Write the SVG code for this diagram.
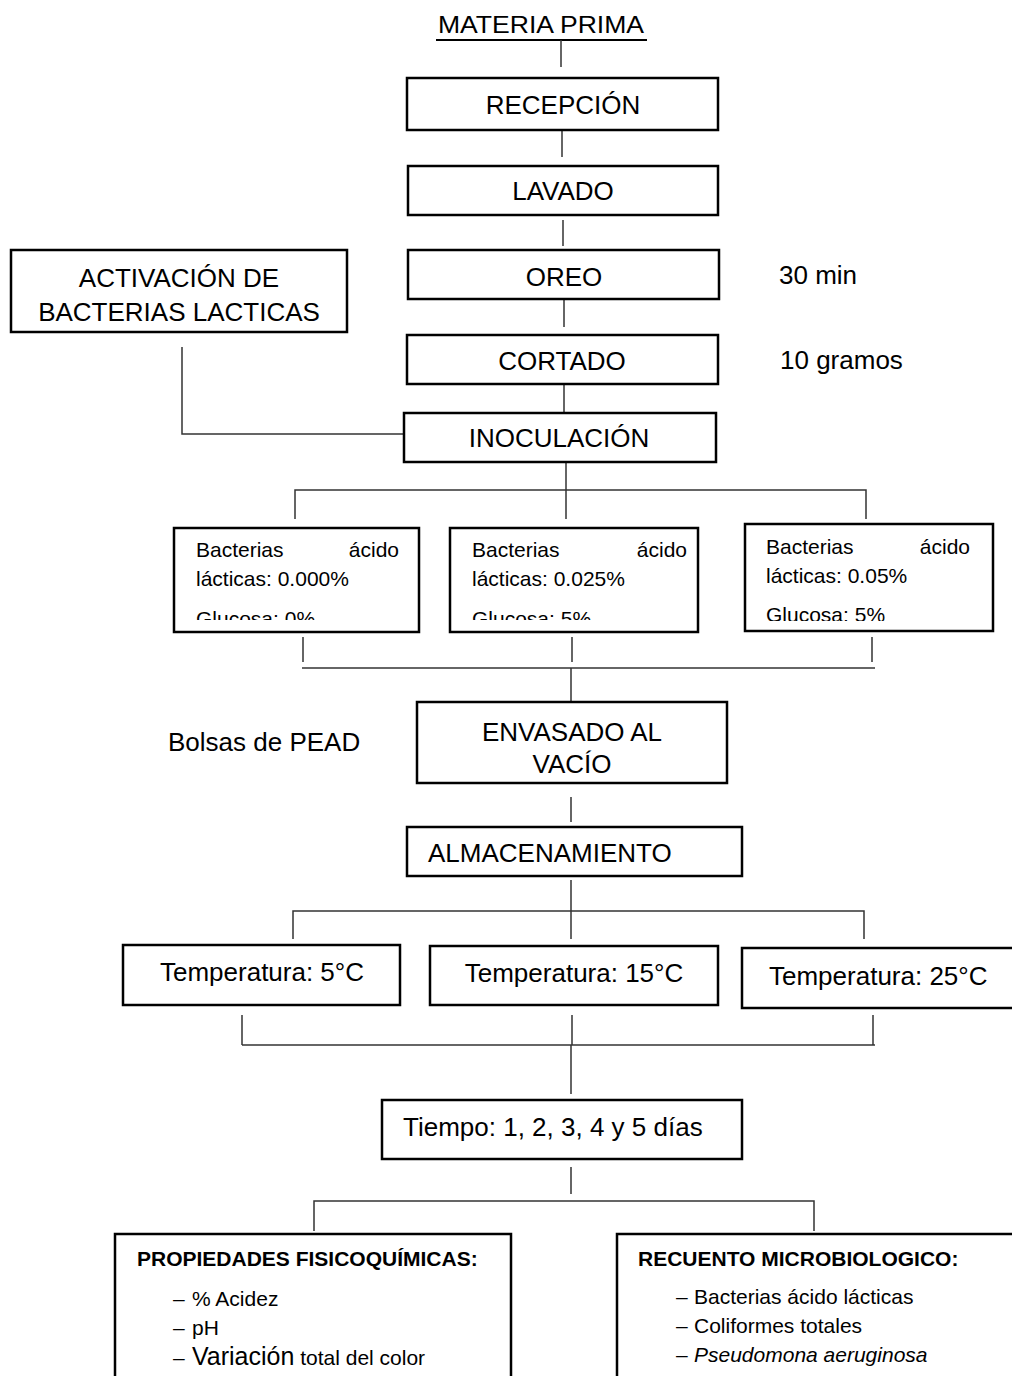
<svg xmlns="http://www.w3.org/2000/svg" width="1012" height="1376" viewBox="0 0 1012 1376">
<style>
  .bx { fill: #fff; stroke: #000; stroke-width: 2.5; }
  .ln { stroke: #333; stroke-width: 1.5; fill: none; }
  .t { font-family: "Liberation Sans", Arial, sans-serif; font-size: 26px; fill: #000; }
  .c { text-anchor: middle; }
  .s { font-family: "Liberation Sans", Arial, sans-serif; font-size: 21px; fill: #000; }
  .b { font-family: "Liberation Sans", Arial, sans-serif; font-size: 21px; font-weight: bold; fill: #000; }
</style>
<defs>
  <clipPath id="cl1"><rect x="174" y="528" width="245" height="92"/></clipPath>
  <clipPath id="cl2"><rect x="450" y="528" width="248" height="92"/></clipPath>
  <clipPath id="cl3"><rect x="745" y="524" width="248" height="97"/></clipPath>
</defs>

<g id="connectors">
  <line class="ln" x1="436" y1="40" x2="647" y2="40" style="stroke:#000;stroke-width:2"/>
  <line class="ln" x1="561" y1="40" x2="561" y2="67"/>
  <line class="ln" x1="562" y1="130" x2="562" y2="157"/>
  <line class="ln" x1="563" y1="220" x2="563" y2="246"/>
  <line class="ln" x1="564" y1="299" x2="564" y2="327"/>
  <line class="ln" x1="564" y1="384" x2="564" y2="413"/>
  <polyline class="ln" points="182,347 182,434 404,434"/>
  <line class="ln" x1="566" y1="462" x2="566" y2="519"/>
  <polyline class="ln" points="295,519 295,490 866,490 866,519"/>
  <line class="ln" x1="303" y1="637" x2="303" y2="662"/>
  <line class="ln" x1="572" y1="637" x2="572" y2="662"/>
  <line class="ln" x1="872" y1="637" x2="872" y2="662"/>
  <line class="ln" x1="302" y1="668" x2="875" y2="668"/>
  <line class="ln" x1="571" y1="668" x2="571" y2="702"/>
  <line class="ln" x1="571" y1="797" x2="571" y2="822"/>
  <line class="ln" x1="571" y1="880" x2="571" y2="939"/>
  <polyline class="ln" points="293,939 293,911 864,911 864,939"/>
  <line class="ln" x1="242" y1="1015" x2="242" y2="1045"/>
  <line class="ln" x1="572" y1="1015" x2="572" y2="1045"/>
  <line class="ln" x1="873" y1="1015" x2="873" y2="1045"/>
  <line class="ln" x1="242" y1="1045" x2="875" y2="1045"/>
  <line class="ln" x1="571" y1="1045" x2="571" y2="1094"/>
  <line class="ln" x1="571" y1="1167" x2="571" y2="1194"/>
  <polyline class="ln" points="314,1231 314,1201 814,1201 814,1231"/>
</g>

<g id="materia-prima">
  <text class="t c" x="541" y="33" style="font-size:24px" textLength="206" lengthAdjust="spacingAndGlyphs">MATERIA PRIMA</text>
</g>
<g id="recepcion">
  <rect class="bx" x="407" y="78" width="311" height="52"/>
  <text class="t c" x="563" y="114">RECEPCIÓN</text>
</g>
<g id="lavado">
  <rect class="bx" x="408" y="166" width="310" height="49"/>
  <text class="t c" x="563" y="200">LAVADO</text>
</g>
<g id="activacion">
  <rect class="bx" x="11" y="250" width="336" height="82"/>
  <text class="t c" x="179" y="287">ACTIVACIÓN DE</text>
  <text class="t c" x="179" y="321">BACTERIAS LACTICAS</text>
</g>
<g id="oreo">
  <rect class="bx" x="408" y="250" width="311" height="49"/>
  <text class="t c" x="564" y="286">OREO</text>
</g>
<g id="t30min">
  <text class="t" x="779" y="284">30 min</text>
</g>
<g id="cortado">
  <rect class="bx" x="407" y="335" width="311" height="49"/>
  <text class="t c" x="562" y="370">CORTADO</text>
</g>
<g id="t10gramos">
  <text class="t" x="780" y="369">10 gramos</text>
</g>
<g id="inoculacion">
  <rect class="bx" x="404" y="413" width="312" height="49"/>
  <text class="t c" x="559" y="447">INOCULACIÓN</text>
</g>

<g id="trat1">
  <rect class="bx" x="174" y="528" width="245" height="104"/>
  <g clip-path="url(#cl1)">
    <text class="s" x="196" y="557">Bacterias</text>
    <text class="s" x="399" y="557" text-anchor="end">ácido</text>
    <text class="s" x="196" y="586">lácticas: 0.000%</text>
    <text class="s" x="196" y="626">Glucosa: 0%</text>
  </g>
</g>
<g id="trat2">
  <rect class="bx" x="450" y="528" width="248" height="104"/>
  <g clip-path="url(#cl2)">
    <text class="s" x="472" y="557">Bacterias</text>
    <text class="s" x="687" y="557" text-anchor="end">ácido</text>
    <text class="s" x="472" y="586">lácticas: 0.025%</text>
    <text class="s" x="472" y="626">Glucosa: 5%</text>
  </g>
</g>
<g id="trat3">
  <rect class="bx" x="745" y="524" width="248" height="107"/>
  <g clip-path="url(#cl3)">
    <text class="s" x="766" y="554">Bacterias</text>
    <text class="s" x="970" y="554" text-anchor="end">ácido</text>
    <text class="s" x="766" y="583">lácticas: 0.05%</text>
    <text class="s" x="766" y="622">Glucosa: 5%</text>
  </g>
</g>

<g id="bolsas">
  <text class="t" x="168" y="751">Bolsas de PEAD</text>
</g>
<g id="envasado">
  <rect class="bx" x="417" y="702" width="310" height="81"/>
  <text class="t c" x="572" y="741">ENVASADO AL</text>
  <text class="t c" x="572" y="773">VACÍO</text>
</g>
<g id="almacenamiento">
  <rect class="bx" x="407" y="827" width="335" height="49"/>
  <text class="t" x="428" y="862">ALMACENAMIENTO</text>
</g>

<g id="temp5">
  <rect class="bx" x="123" y="945" width="277" height="60"/>
  <text class="t c" x="262" y="981">Temperatura: 5°C</text>
</g>
<g id="temp15">
  <rect class="bx" x="430" y="946" width="288" height="59"/>
  <text class="t c" x="574" y="982">Temperatura: 15°C</text>
</g>
<g id="temp25">
  <rect class="bx" x="742" y="948" width="290" height="60"/>
  <text class="t" x="769" y="985">Temperatura: 25°C</text>
</g>

<g id="tiempo">
  <rect class="bx" x="382" y="1100" width="360" height="59"/>
  <text class="t" x="403" y="1136">Tiempo: 1, 2, 3, 4 y 5 días</text>
</g>

<g id="fisicoquimicas">
  <rect class="bx" x="115" y="1234" width="396" height="160"/>
  <text class="b" x="137" y="1266">PROPIEDADES FISICOQUÍMICAS:</text>
  <text class="s"><tspan x="173" y="1306">–</tspan><tspan x="192" y="1306">% Acidez</tspan></text>
  <text class="s"><tspan x="173" y="1335">–</tspan><tspan x="192" y="1335">pH</tspan></text>
  <text class="s"><tspan x="173" y="1365">–</tspan><tspan x="192" y="1365" style="font-size:25px">Variación</tspan><tspan> total del color</tspan></text>
</g>
<g id="microbiologico">
  <rect class="bx" x="617" y="1234" width="420" height="160"/>
  <text class="b" x="638" y="1266">RECUENTO MICROBIOLOGICO:</text>
  <text class="s"><tspan x="676" y="1304">–</tspan><tspan x="694" y="1304">Bacterias ácido lácticas</tspan></text>
  <text class="s"><tspan x="676" y="1333">–</tspan><tspan x="694" y="1333">Coliformes totales</tspan></text>
  <text class="s"><tspan x="676" y="1362">–</tspan><tspan x="694" y="1362" font-style="italic">Pseudomona aeruginosa</tspan></text>
</g>
</svg>
